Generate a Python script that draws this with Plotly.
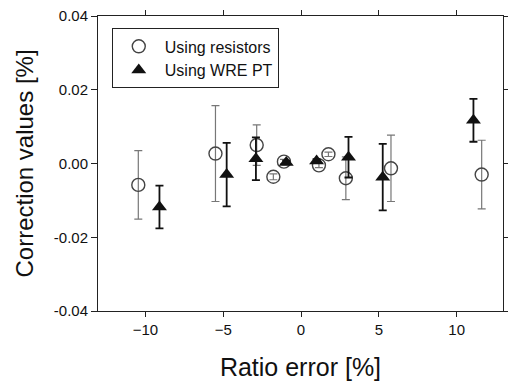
import plotly.graph_objects as go

# Data
res_x = [-10.46, -5.5, -2.85, -1.78, -1.1, 1.15, 1.76, 2.88, 5.78, 11.61]
res_y = [-0.0058, 0.0027, 0.0050, -0.0036, 0.0005, -0.0005, 0.0025, -0.0040, -0.0013, -0.0030]
res_err = [0.0093, 0.0130, 0.0055, 0.0008, 0.0006, 0.0006, 0.0006, 0.0058, 0.0090, 0.0093]

wre_x = [-9.1, -4.78, -2.9, -0.95, 1.0, 3.05, 5.25, 11.08]
wre_y = [-0.0118, -0.0030, 0.0013, 0.0003, 0.0007, 0.0017, -0.0037, 0.0117]
wre_err = [0.0058, 0.0086, 0.0058, 0.0005, 0.0005, 0.0055, 0.0090, 0.0058]

x_ticks = [-10, -5, 0, 5, 10]
y_ticks = [-0.04, -0.02, 0.00, 0.02, 0.04]
y_tick_text = ["-0.04", "-0.02", "0.00", "0.02", "0.04"]

FONT = "Arial, 'Liberation Sans', sans-serif"

fig = go.Figure()
fig.add_trace(go.Scatter(
    x=res_x, y=res_y, mode="markers", name="Using resistors",
    marker=dict(symbol="circle-open", size=13, color="#444444", line=dict(width=1.4)),
    error_y=dict(type="data", array=res_err, visible=True, color="#777777", thickness=1.2, width=4),
))
fig.add_trace(go.Scatter(
    x=wre_x, y=wre_y, mode="markers", name="Using WRE PT",
    marker=dict(symbol="triangle-up", size=13, color="#111111"),
    error_y=dict(type="data", array=wre_err, visible=True, color="#111111", thickness=1.8, width=4),
))

fig.update_layout(
    width=508, height=381,
    margin=dict(l=98, r=5, t=16, b=70, autoexpand=False),
    paper_bgcolor="white", plot_bgcolor="white",
    font=dict(family=FONT, color="#111111"),
    showlegend=True,
    legend=dict(x=0.034, y=0.958, xanchor="left", yanchor="top",
                bordercolor="#222222", borderwidth=1, bgcolor="white",
                font=dict(size=16, family=FONT), itemwidth=42, tracegroupgap=0),
    xaxis=dict(range=[-13.05, 12.98], tickvals=x_ticks, ticks="outside", ticklen=5,
               tickcolor="#222", showline=True, linecolor="#222", linewidth=1, mirror="ticks",
               showgrid=False, zeroline=False, tickfont=dict(size=15), automargin=False,
               title=dict(text="Ratio error [%]", font=dict(size=25), standoff=22)),
    yaxis=dict(range=[-0.04, 0.04], tickvals=y_ticks, ticktext=y_tick_text,
               ticks="outside", ticklen=6, tickcolor="#222", automargin=False,
               showline=True, linecolor="#222", linewidth=1, mirror="ticks",
               showgrid=False, zeroline=False, tickfont=dict(size=15),
               title=dict(text="Correction values [%]", font=dict(size=24), standoff=13)),
)

fig.write_html("out.html", config={"displayModeBar": False},
               post_script="document.body.style.margin='0';")
